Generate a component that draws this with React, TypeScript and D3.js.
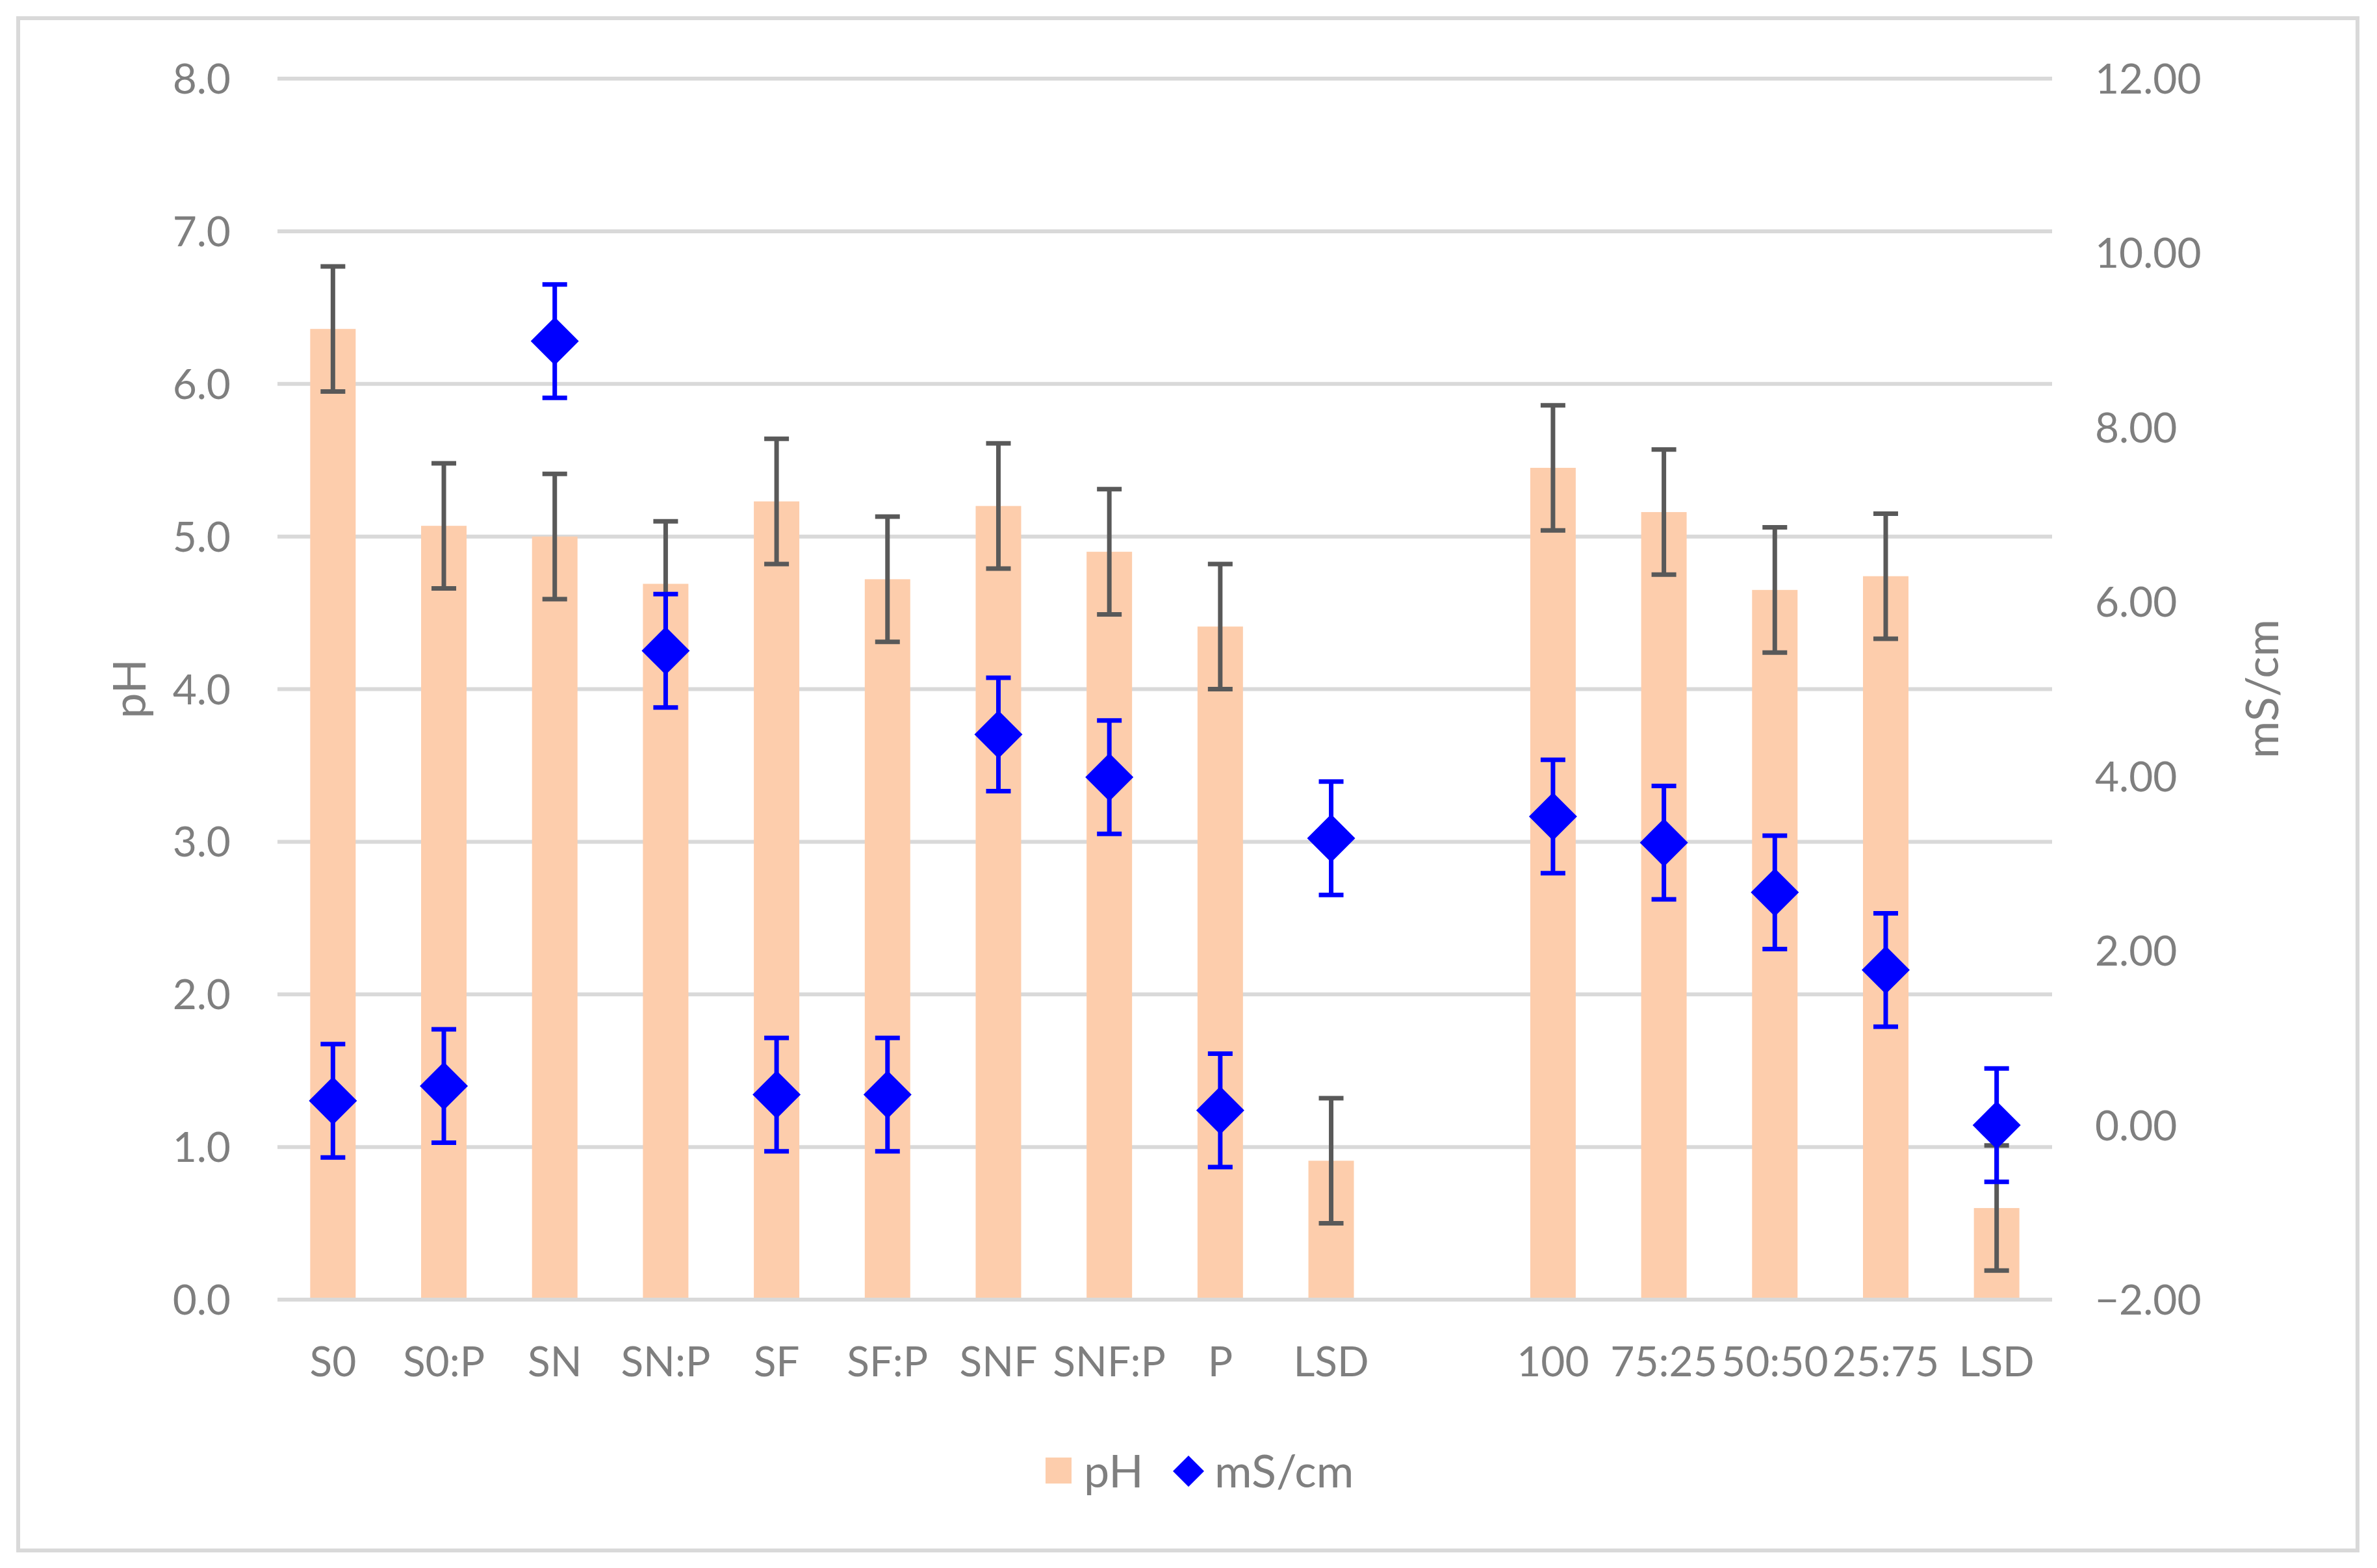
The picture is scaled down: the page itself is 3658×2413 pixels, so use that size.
import React, { useEffect } from 'react';
import * as d3 from 'd3';

// categories (16 slots, one empty spacer between the two groups)
const categories = ['S0', 'S0:P', 'SN', 'SN:P', 'SF', 'SF:P', 'SNF', 'SNF:P', 'P', 'LSD', '', '100', '75:25', '50:50', '25:75', 'LSD'];

// pH (left axis) – bars with error bars
const phValues: (number | null)[] = [6.36, 5.07, 5.0, 4.69, 5.23, 4.72, 5.2, 4.9, 4.41, 0.91, null, 5.45, 5.16, 4.65, 4.74, 0.6];
const phErrors: (number | null)[] = [0.41, 0.41, 0.41, 0.41, 0.41, 0.41, 0.41, 0.41, 0.41, 0.41, null, 0.41, 0.41, 0.41, 0.41, 0.41];

// conductivity (right axis) – diamond markers with error bars
const ecValues: (number | null)[] = [0.28, 0.45, 8.99, 5.44, 0.35, 0.35, 4.48, 3.99, 0.17, 3.29, null, 3.54, 3.24, 2.67, 1.78, 0.0];
const ecErrors: (number | null)[] = [0.65, 0.65, 0.65, 0.65, 0.65, 0.65, 0.65, 0.65, 0.65, 0.65, null, 0.65, 0.65, 0.65, 0.65, 0.65];

const leftTicks = [0, 1, 2, 3, 4, 5, 6, 7, 8];
const rightTicks = [-2, 0, 2, 4, 6, 8, 10, 12];

const W = 3658;
const H = 2413;
const FONT = 'Lato, "Open Sans", sans-serif';
const TEXT = '#7f7f7f';
const GRID = '#d9d9d9';
const BAR = '#fdcdac';
const BLUE = '#0000ff';
const ERR = '#595959';

const App: React.FC = () => {
  useEffect(() => {
    document.body.style.margin = '0';
  }, []);

  const left = 427, right = 3158, top = 121, bottom = 2000;

  const x = d3.scaleBand<number>()
    .domain(categories.map((_, i) => i))
    .range([left, right])
    .padding(0);
  const bw = x.bandwidth() * 0.41;
  const cx = (i: number) => (x(i) as number) + x.bandwidth() / 2;

  const yL = d3.scaleLinear().domain([0, 8]).range([bottom, top]);
  const yR = d3.scaleLinear().domain([-2, 12]).range([bottom, top]);

  const fmtL = d3.format('.1f');
  const fmtR = d3.format('.2f');

  const capHalf = 19;
  const dHalf = 37;
  const diamond = (px: number, py: number, h: number) =>
    `M${px},${py - h}L${px + h},${py}L${px},${py + h}L${px - h},${py}Z`;

  return (
    <svg width={W} height={H} style={{ display: 'block' }} fontFamily={FONT}>
      <rect x={0} y={0} width={W} height={H} fill="#fff" />
      <rect x={28} y={28} width={3600} height={2358} fill="none" stroke={GRID} strokeWidth={6} />

      {/* gridlines */}
      {leftTicks.map(t => (
        <line key={t} x1={left} x2={right} y1={yL(t)} y2={yL(t)} stroke={GRID} strokeWidth={6} />
      ))}

      {/* bars */}
      {phValues.map((v, i) => v == null ? null : (
        <rect key={i} x={cx(i) - bw / 2} y={yL(v)} width={bw} height={yL(0) - yL(v) - 3} fill={BAR} />
      ))}

      {/* pH error bars */}
      {phValues.map((v, i) => {
        const e = phErrors[i];
        if (v == null || e == null) return null;
        const y1 = yL(v + e), y2 = yL(v - e), c = cx(i);
        return (
          <g key={i} stroke={ERR} strokeWidth={7}>
            <line x1={c} x2={c} y1={y1} y2={y2} />
            <line x1={c - capHalf} x2={c + capHalf} y1={y1} y2={y1} />
            <line x1={c - capHalf} x2={c + capHalf} y1={y2} y2={y2} />
          </g>
        );
      })}

      {/* conductivity error bars */}
      {ecValues.map((v, i) => {
        const e = ecErrors[i];
        if (v == null || e == null) return null;
        const y1 = yR(v + e), y2 = yR(v - e), c = cx(i);
        return (
          <g key={i} stroke={BLUE} strokeWidth={7}>
            <line x1={c} x2={c} y1={y1} y2={y2} />
            <line x1={c - capHalf} x2={c + capHalf} y1={y1} y2={y1} />
            <line x1={c - capHalf} x2={c + capHalf} y1={y2} y2={y2} />
          </g>
        );
      })}

      {/* diamonds */}
      {ecValues.map((v, i) => v == null ? null : (
        <path key={i} d={diamond(cx(i), yR(v), dHalf)} fill={BLUE} />
      ))}

      {/* left axis labels */}
      {leftTicks.map(t => (
        <text key={t} x={355} y={yL(t)} dy="0.36em" textAnchor="end" fontSize={64} fill={TEXT}>{fmtL(t)}</text>
      ))}
      {/* right axis labels */}
      {rightTicks.map(t => (
        <text key={t} x={3224} y={yR(t)} dy="0.36em" textAnchor="start" fontSize={64} fill={TEXT}>{fmtR(t)}</text>
      ))}

      {/* category labels */}
      {categories.map((c, i) => (
        <text key={i} x={cx(i)} y={2095} dy="0.36em" textAnchor="middle" fontSize={64} fill={TEXT}>{c}</text>
      ))}

      {/* axis titles */}
      <text transform={`translate(199,1060) rotate(-90)`} textAnchor="middle" dy="0.36em" fontSize={70} fill={TEXT}>pH</text>
      <text transform={`translate(3481,1060) rotate(-90)`} textAnchor="middle" dy="0.36em" fontSize={70} fill={TEXT}>mS/cm</text>

      {/* legend */}
      <rect x={1609} y={2243} width={40} height={40} fill={BAR} />
      <text x={1668} y={2264} dy="0.36em" fontSize={70} fill={TEXT}>pH</text>
      <path d={diamond(1829, 2264, 24)} fill={BLUE} />
      <text x={1869} y={2264} dy="0.36em" fontSize={70} fill={TEXT}>mS/cm</text>
    </svg>
  );
};

export default App;
